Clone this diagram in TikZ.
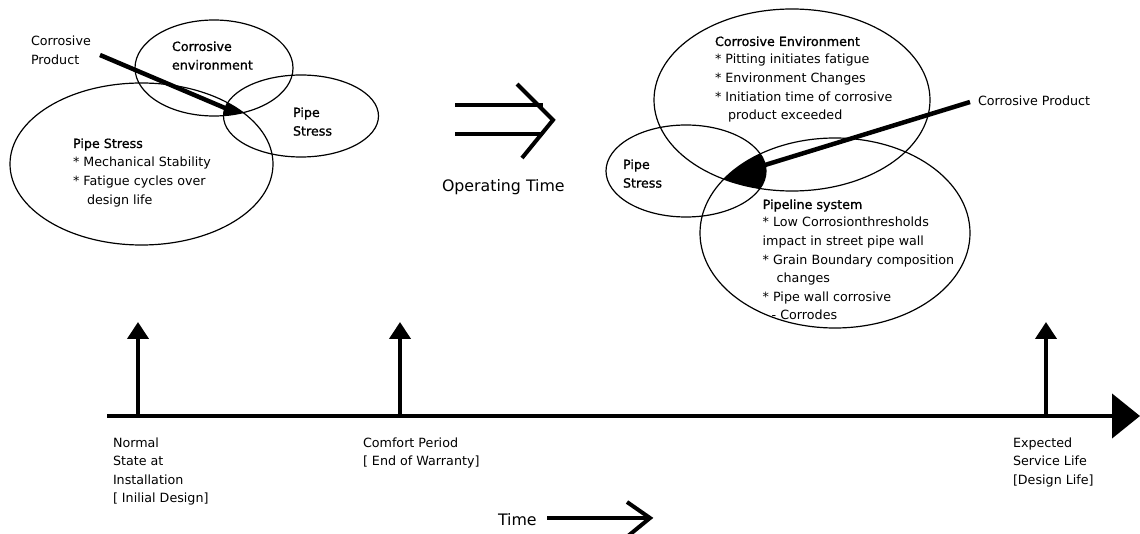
\documentclass[tikz,border=0pt]{standalone}
\usepackage{fontspec}
\setmainfont{DejaVu Sans}
\newfontfamily\headfont[FakeBold=1]{DejaVu Sans}
\usetikzlibrary{arrows.meta}
\newcommand\lnstrut{\rule{0pt}{10pt}}

\begin{document}
\begin{tikzpicture}[x=1pt,y=-1pt,
  txt/.style={inner sep=0pt, outer sep=0pt, anchor=north west, align=left,
    font=\fontsize{12.7}{18.6}\selectfont},
  one/.style={inner sep=0pt, outer sep=0pt, anchor=base west,
    font=\fontsize{12.7}{18.6}\selectfont},
  head/.style={font=\headfont\fontsize{12.7}{18.6}\selectfont},
  big/.style={inner sep=0pt, outer sep=0pt, anchor=base west,
    font=\fontsize{15.8}{19}\selectfont},
  ring/.style={draw, line width=1.2pt},
  heavy/.style={line width=4.5pt},
  chev/.style={line width=4pt, line join=miter},
  axis/.style={line width=4.5pt, -{Triangle[length=28pt,width=44pt]}},
  mark arrow/.style={line width=4pt, -{Triangle[length=17pt,width=21pt]}},
]
\useasboundingbox (0,0) rectangle (1140,534);

% ---------- initial state: three overlapping regions ----------
\begin{scope}
  \clip (214,68) ellipse [x radius=79pt, y radius=48pt];
  \clip (141.5,164) ellipse [x radius=131.5pt, y radius=81pt];
  \fill (301,116) ellipse [x radius=77.5pt, y radius=41pt];
\end{scope}
\draw[ring] (214,68) ellipse [x radius=79pt, y radius=48pt];
\draw[ring] (141.5,164) ellipse [x radius=131.5pt, y radius=81pt];
\draw[ring] (301,116) ellipse [x radius=77.5pt, y radius=41pt];

\node[txt] (lcp) at (31,36) {\lnstrut Corrosive\\Product};
\node[txt, head] (lce) at (172,41) {\lnstrut Corrosive\\environment};
\node[txt, head] (lps) at (293,107) {\lnstrut Pipe\\Stress};
\node[one, head] (lpsh) at (73,148) {Pipe Stress};
\node[txt] (lpsb) at (73,157) {\lnstrut * Mechanical Stability\\* Fatigue cycles over\\\hspace{14pt}design life};

\coordinate (lcpEnd) at (100,55);
\coordinate (lcpTip) at (232,111);
\draw[heavy] (lcpEnd) -- (lcpTip);

% ---------- operating time ----------
\coordinate (dA1) at (455,105);
\coordinate (dB1) at (543,105);
\coordinate (dA2) at (455,134);
\coordinate (dB2) at (543,134);
\coordinate (dT) at (517,84);
\coordinate (dM) at (553,120);
\coordinate (dL) at (522,158);
\draw[chev] (dA1) -- (dB1);
\draw[chev] (dA2) -- (dB2);
\draw[chev] (dT) -- (dM) -- (dL);
\node[big] (opt) at (442,192) {Operating Time};

% ---------- later state ----------
\begin{scope}
  \clip (792,100) ellipse [x radius=138pt, y radius=91pt];
  \clip (686,171) ellipse [x radius=80pt, y radius=46pt];
  \fill (835,233) ellipse [x radius=135pt, y radius=95pt];
\end{scope}
\draw[ring] (792,100) ellipse [x radius=138pt, y radius=91pt];
\draw[ring] (686,171) ellipse [x radius=80pt, y radius=46pt];
\draw[ring] (835,233) ellipse [x radius=135pt, y radius=95pt];

\node[one, head] (rceh) at (715,46) {Corrosive Environment};
\node[txt] (rceb) at (715,54) {\lnstrut * Pitting initiates fatigue\\* Environment Changes\\* Initiation time of corrosive\\\hspace{13pt}product exceeded};
\node[txt, head] (rps) at (623,159) {\lnstrut Pipe\\Stress};
\node[one, head] (rplh) at (762.7,209) {Pipeline system};
\node[txt] (rplb) at (762.7,217) {\lnstrut * Low Corrosionthresholds\\impact in street pipe wall\\* Grain Boundary composition\\\hspace{14pt}changes\\* Pipe wall corrosive\\\hspace{9pt}- Corrodes};
\node[one] (rcp) at (978,106) {Corrosive Product};

\coordinate (rcpTip) at (765,165);
\coordinate (rcpEnd) at (970,102);
\draw[heavy] (rcpTip) -- (rcpEnd);

% ---------- time line ----------
\coordinate (axL) at (107,416);
\coordinate (axR) at (1140,416);
\draw[axis] (axL) -- (axR);

\coordinate (m1b) at (138,416);
\coordinate (m1t) at (138,322);
\coordinate (m2b) at (400,416);
\coordinate (m2t) at (400,322);
\coordinate (m3b) at (1046,416);
\coordinate (m3t) at (1046,322);
\draw[mark arrow] (m1b) -- (m1t);
\draw[mark arrow] (m2b) -- (m2t);
\draw[mark arrow] (m3b) -- (m3t);

\node[txt] (n1) at (113,437) {\lnstrut Normal\\State at\\Installation\\{[} Inilial Design]};
\node[txt] (n2) at (363,437) {\lnstrut Comfort Period\\{[} End of Warranty]};
\node[txt] (n3) at (1013,437) {\lnstrut Expected\\Service Life\\{[}Design Life]};

\node[big] (time) at (498,525) {Time};
\coordinate (tA) at (547,518);
\coordinate (tB) at (648,518);
\coordinate (tT) at (627,502);
\coordinate (tM) at (650,518);
\coordinate (tL) at (628,536);
\draw[chev] (tA) -- (tB);
\draw[chev] (tT) -- (tM) -- (tL);
\end{tikzpicture}
\end{document}
